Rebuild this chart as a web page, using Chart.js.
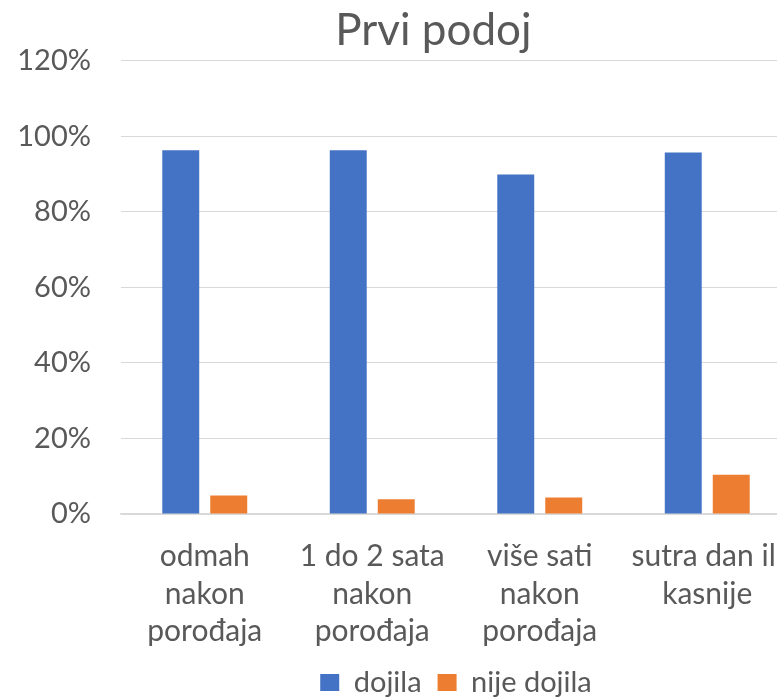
<!DOCTYPE html>
<html>
<head>
<meta charset="utf-8">
<script src="https://cdn.jsdelivr.net/npm/chart.js@4"></script>
<style>
  html, body { margin: 0; padding: 0; background: #fff; overflow: hidden; }
  /* the original picture is cropped on the right, so the canvas is a bit wider than the window */
  #wrap { width: 777px; height: 697px; overflow: hidden; }
</style>
</head>
<body>
<div id="wrap"><canvas id="podojChart" width="791" height="697"></canvas></div>
<script>
const categories = [
    ["odmah", "nakon", "porođaja"],
    ["1 do 2 sata", "nakon", "porođaja"],
    ["više sati", "nakon", "porođaja"],
    ["sutra dan ili", "kasnije"]
];
const dojila = [96.3, 96.3, 89.9, 95.7];      // %
const nijeDojila = [4.9, 3.9, 4.4, 10.4];     // %
const yTicks = [0, 20, 40, 60, 80, 100, 120];

const fontFamily = "Lato, 'Open Sans', sans-serif";
const grey = '#595959';

const ctx = document.getElementById('podojChart').getContext('2d');
new Chart(ctx, {
    type: 'bar',
    data: {
        labels: categories,
        datasets: [
            { label: 'dojila', data: dojila, backgroundColor: '#4472C4' },
            { label: 'nije dojila', data: nijeDojila, backgroundColor: '#ED7D31' }
        ]
    },
    options: {
        responsive: false,
        animation: false,
        layout: { padding: { left: 0, right: 0, top: 0, bottom: -10 } },
        datasets: {
            bar: { categoryPercentage: 0.573, barPercentage: 0.77 }
        },
        scales: {
            x: {
                grid: { display: false, drawTicks: false },
                border: { color: '#d9d9d9', width: 1.5 },
                ticks: {
                    color: grey,
                    font: { family: fontFamily, size: 30, lineHeight: 1.25 },
                    maxRotation: 0,
                    autoSkip: false,
                    padding: 24
                },
                afterFit: function(scale) {
                    scale.height = 138;
                    scale.paddingLeft = 0;
                    scale.paddingRight = 0;
                }
            },
            y: {
                min: 0,
                max: 120,
                afterBuildTicks: function(scale) {
                    scale.ticks = yTicks.map(v => ({ value: v }));
                },
                grid: { color: '#d9d9d9', lineWidth: 1, drawTicks: false },
                border: { display: false },
                ticks: {
                    color: grey,
                    font: { family: fontFamily, size: 29 },
                    padding: 30,
                    callback: v => v + '%'
                },
                afterFit: function(scale) {
                    scale.width = 121;
                    scale.paddingTop = 0;
                    scale.paddingBottom = 0;
                }
            }
        },
        plugins: {
            title: {
                display: true,
                text: 'Prvi podoj' + '\u00a0'.repeat(4),
                color: grey,
                fullSize: false,
                font: { family: fontFamily, size: 44, weight: 'normal', lineHeight: 1.2 },
                padding: { top: 4, bottom: 4 }
            },
            legend: {
                position: 'bottom',
                fullSize: false,
                labels: {
                    color: grey,
                    font: { family: fontFamily, size: 29 },
                    boxWidth: 19,
                    boxHeight: 17,
                    padding: 16
                }
            },
            tooltip: { enabled: false }
        }
    }
});
</script>
</body>
</html>
